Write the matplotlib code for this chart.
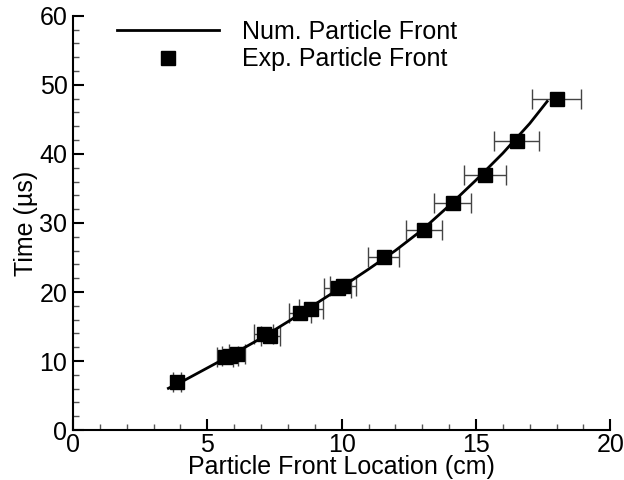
import numpy as np
import matplotlib
matplotlib.use("Agg")
import matplotlib.pyplot as plt

plt.rcParams['font.family'] = ['Liberation Sans', 'DejaVu Sans']

# numerical particle front
num_x = [3.55, 4.0, 5.0, 6.0, 7.0, 8.0, 9.0, 10.0, 11.0, 12.0, 13.0, 14.0, 15.0, 16.0, 17.0, 17.65]
num_t = [6.05, 6.9, 9.0, 11.1, 13.3, 15.7, 18.2, 20.7, 23.3, 26.0, 29.0, 32.5, 36.2, 40.1, 44.4, 47.6]

# experimental points
exp_x = [3.88, 5.65, 5.85, 6.1, 7.1, 7.35, 8.45, 8.85, 9.85, 10.05, 11.56, 13.05, 14.13, 15.32, 16.52, 18.0]
exp_t = [7.0, 10.6, 10.7, 11.0, 13.9, 13.6, 17.0, 17.5, 20.6, 20.9, 25.0, 29.0, 32.9, 37.0, 41.9, 48.0]
exp_err = [0.15, 0.3, 0.3, 0.3, 0.35, 0.35, 0.4, 0.45, 0.5, 0.5, 0.58, 0.67, 0.7, 0.78, 0.84, 0.9]

fig = plt.figure(figsize=(6.24, 4.8), dpi=100)
ax = fig.add_axes([0.117, 0.104, 0.861, 0.863])

ax.errorbar(exp_x, exp_t, xerr=exp_err, fmt='none', ecolor='#444444',
            elinewidth=1, capsize=7, capthick=1, zorder=2)
ax.plot(num_x, num_t, color='black', lw=2, label='Num. Particle Front', zorder=3)
ax.plot(exp_x, exp_t, 's', color='black', ms=10, ls='none',
        label='Exp. Particle Front', zorder=4)

ax.set_xlim(0, 20)
ax.set_ylim(0, 60)
ax.set_xticks([0, 5, 10, 15, 20])
ax.set_yticks([0, 10, 20, 30, 40, 50, 60])
ax.set_xticks(np.arange(0, 21, 1), minor=True)
ax.set_yticks(np.arange(0, 61, 2), minor=True)
ax.tick_params(which='major', direction='in', length=8, width=1.5, labelsize=18)
ax.tick_params(axis='x', which='major', pad=2)
ax.tick_params(axis='y', which='major', pad=4)
ax.tick_params(which='minor', direction='in', length=4, width=1, color='#555555')
ax.spines['top'].set_visible(False)
ax.spines['right'].set_visible(False)
ax.spines['left'].set_linewidth(1.5)
ax.spines['bottom'].set_linewidth(1.5)

ax.set_xlabel('Particle Front Location (cm)', fontsize=18, labelpad=-1)
ax.set_ylabel('Time (\u00b5s)', fontsize=18, labelpad=1)

ax.legend(loc='upper left', bbox_to_anchor=(0.04, 1.045), frameon=False,
          fontsize=18, handlelength=4.1, handletextpad=0.9, labelspacing=0.15)

fig.savefig('out.png', dpi=100)
